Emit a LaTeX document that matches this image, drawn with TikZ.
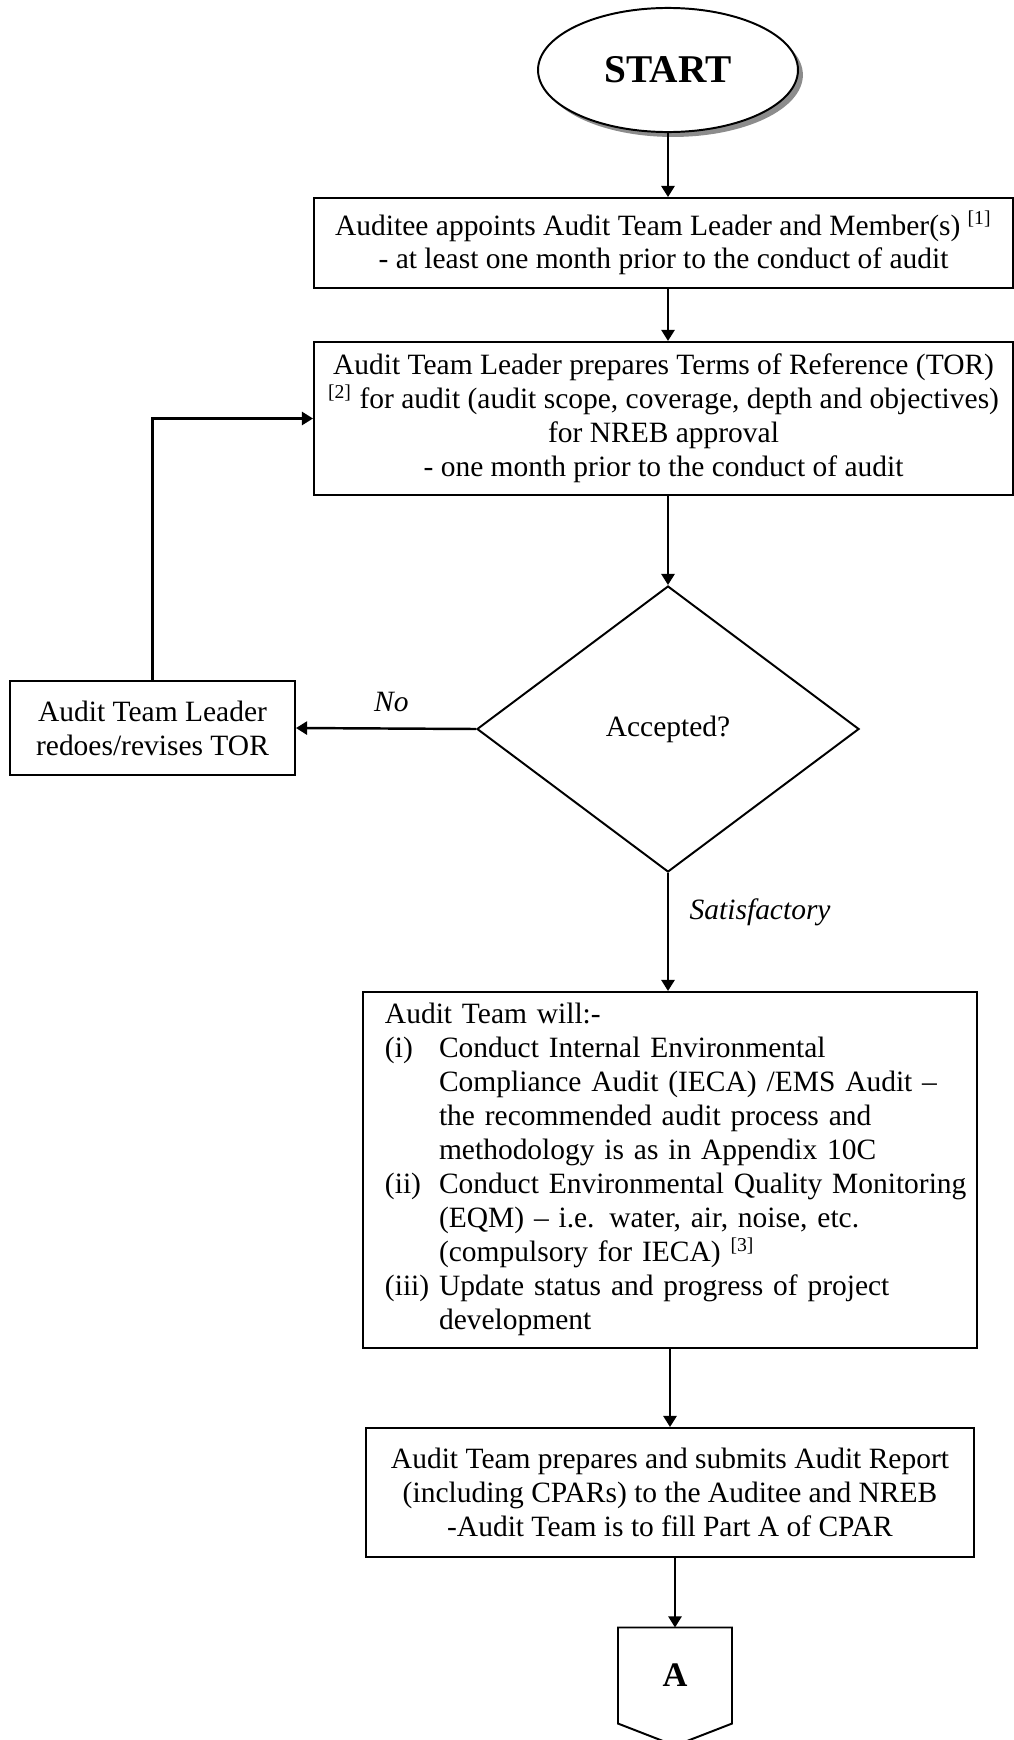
\documentclass[tikz,border=0pt]{standalone}
\usepackage{fontspec}
\setmainfont{Liberation Serif}
\usetikzlibrary{shapes.geometric,arrows.meta,shadows}

\begin{document}
\begin{tikzpicture}[x=0.407pt,y=-0.407pt,
  font=\fontsize{12}{13.8}\selectfont,
  box/.style={draw,line width=0.8pt,align=center,inner sep=0pt},
  arr/.style={-{Triangle[length=4.5pt,width=5.3pt]},line width=1pt},
  lbl/.style={font=\fontsize{12}{13.8}\selectfont\itshape}]
\useasboundingbox (0,0) rectangle (1013,1740);
\node[ellipse,draw,line width=0.8pt,fill=white,minimum width=105.8pt,minimum height=50.5pt,
  drop shadow={fill=black!45,opacity=1,shadow xshift=2pt,shadow yshift=-2pt},
  font=\fontsize{16}{19}\selectfont\bfseries] (start) at (668,70) {START};
\node[box,minimum width=284.5pt,minimum height=36.6pt] (appoint) at (663.5,243)
  {Auditee appoints Audit Team Leader and Member(s) \textsuperscript{[1]}\\
   - at least one month prior to the conduct of audit};
\node[box,minimum width=284.5pt,minimum height=62.3pt] (tor) at (663.5,418.5)
  {Audit Team Leader prepares Terms of Reference (TOR)\\
   \textsuperscript{[2]} for audit (audit scope, coverage, depth and objectives)\\
   for NREB approval\\
   - one month prior to the conduct of audit};
\node[diamond,draw,line width=0.8pt,inner sep=0pt,minimum width=155.5pt,minimum height=116.4pt]
  (accept) at (668,729) {Accepted?};
\node[box,minimum width=116pt,minimum height=38.3pt] (redo) at (152.5,728)
  {Audit Team Leader\\redoes/revises TOR};
\node[box,align=left,text width=232pt,inner xsep=9pt,minimum height=144.9pt] (audit) at (670,1170)
  {\begin{tabular}{@{}p{22pt}@{}l@{}}
   \multicolumn{2}{@{}l@{}}{Audit Team will:-}\\
   (i)   & Conduct Internal Environmental\\
         & Compliance Audit (IECA) /EMS Audit --\\
         & the recommended audit process and\\
         & methodology is as in Appendix 10C\\
   (ii)  & Conduct Environmental Quality Monitoring\\
         & (EQM) -- i.e. water, air, noise, etc.\\
         & (compulsory for IECA) \textsuperscript{[3]}\\
   (iii) & Update status and progress of project\\
         & development
   \end{tabular}};
\node[box,minimum width=247.5pt,minimum height=52.5pt] (report) at (670,1492.5)
  {Audit Team prepares and submits Audit Report\\
   (including CPARs) to the Auditee and NREB\\
   -Audit Team is to fill Part A of CPAR};
\node[minimum width=46pt,minimum height=38.7pt,inner sep=0pt,
  font=\fontsize{14}{16}\selectfont\bfseries] (conA) at (675,1675.5) {A};
\draw[line width=0.8pt] (conA.north west) -- (conA.south west) -- ([yshift=-9pt]conA.south)
  -- (conA.south east) -- (conA.north east) -- cycle;
% connectors
\draw[arr] (start) -- (start |- appoint.north);
\draw[arr] (appoint.south -| start) -- (tor.north -| start);
\draw[arr] (tor.south -| accept) -- (accept.north);
\draw[arr] (accept.west) -- node[pos=0.47,above,yshift=3pt,lbl]{No} (redo.east);
\draw[arr] (redo.north) |- (tor.west);
\draw[arr] (accept.south) -- node[pos=0.33,right,xshift=5pt,lbl]{Satisfactory} (accept.south |- audit.north);
\draw[arr] (audit.south) -- (report.north);
\draw[arr] (report.south -| conA) -- (conA.north);
\end{tikzpicture}
\end{document}
